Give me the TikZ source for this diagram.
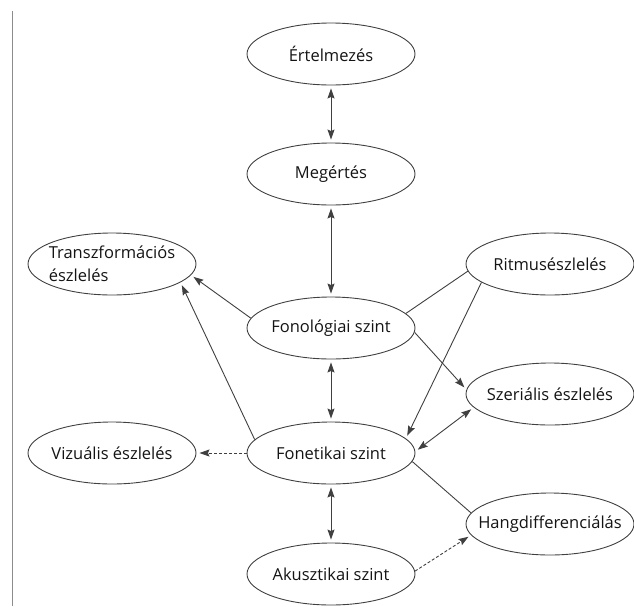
\documentclass[tikz,border=0pt]{standalone}
\usepackage{fontspec}
\setmainfont{Open Sans}
\usetikzlibrary{shapes.geometric,arrows.meta}

\begin{document}
\begin{tikzpicture}[x=1pt,y=-1pt,
  lvl/.style={ellipse,draw=black!75,line width=0.9pt,
    minimum width=168pt,minimum height=62pt,
    inner xsep=-40pt,inner ysep=-15pt,
    font=\fontsize{16.5}{23}\selectfont,text=black!92},
  link/.style={draw=black!75,line width=0.9pt},
  head/.tip={Stealth[length=10pt,width=7pt,inset=1.5pt]},
  tip/.style={-head,shorten >=3pt},
  both/.style={head-head,shorten >=3pt,shorten <=3pt},
  weak/.style={dash pattern=on 3pt off 2pt}]

\useasboundingbox (0,0) rectangle (634,606);

% margin rule on the left
\draw[black!45,line width=0.8pt] (12,11) -- (12,606);

% levels and perceptions
\node[lvl] (ert) at (331,54) {Értelmezés};
\node[lvl] (meg) at (331,174) {Megértés};
\node[lvl,align=left] (trf) at (112,264) {Transzformációs\\észlelés};
\node[lvl] (rit) at (550,264) {Ritmusészlelés};
\node[lvl] (fnl) at (331,328) {Fonológiai szint};
\node[lvl] (szr) at (550,394) {Szeriális észlelés};
\node[lvl] (fnt) at (331,453) {Fonetikai szint};
\node[lvl] (viz) at (112,453) {Vizuális észlelés};
\node[lvl] (hng) at (550,524) {Hangdifferenciálás};
\node[lvl] (aku) at (331,574) {Akusztikai szint};

% vertical chain
\draw[link,both] (ert.south) -- (meg.north);
\draw[link,both] (meg.south) -- (fnl.north);
\draw[link,both] (fnl.south) -- (fnt.north);
\draw[link,both] (fnt.south) -- (aku.north);

% side connections
\draw[link,tip] (fnl.173) -- (trf.-8.5);
\draw[link,tip] (fnt.170.5) -- (trf.-15);
\draw[link] (fnl.11) -- (rit.185);
\draw[link,tip] (rit.195) -- (fnt.11);
\draw[link,tip] (fnl.-3.4) -- (szr.177);
\draw[link,both] (fnt.1) -- (szr.190);
\draw[link] (fnt.-6.3) -- (hng.172);
\draw[link,tip,weak] (aku.2) -- (hng.188.7);
\draw[link,tip,weak] (fnt.west) -- (viz.east);
\end{tikzpicture}
\end{document}
